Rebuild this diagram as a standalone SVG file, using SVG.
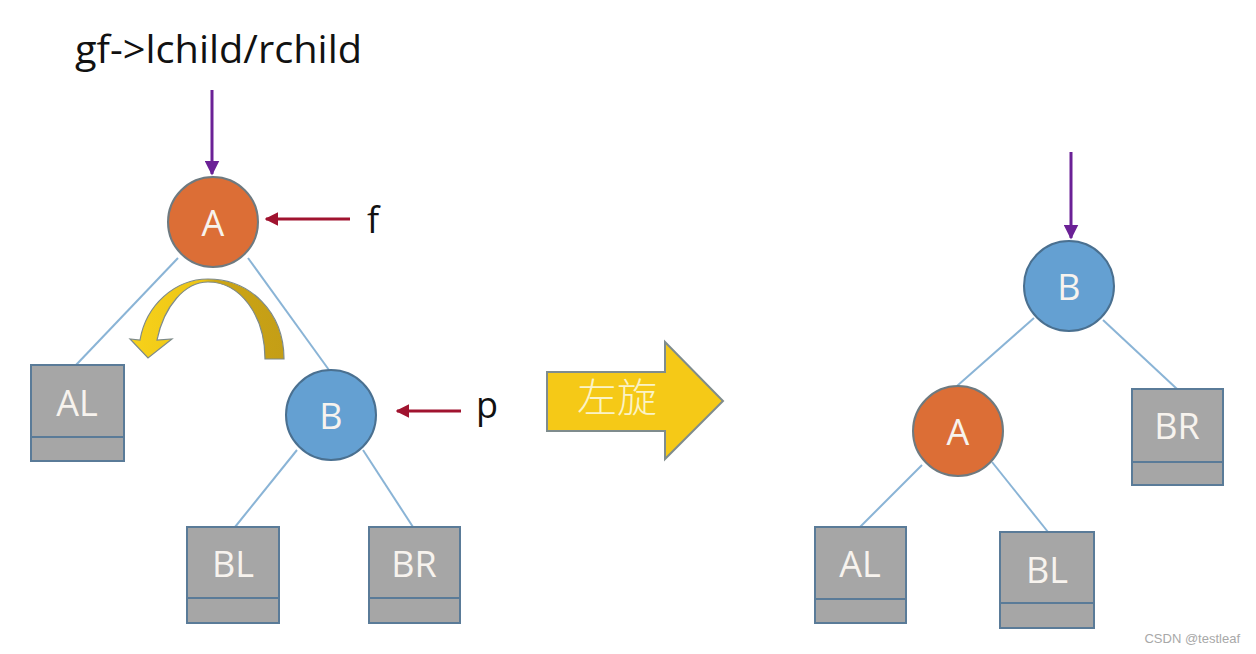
<svg xmlns="http://www.w3.org/2000/svg" width="1256" height="654" viewBox="0 0 1256 654">
<defs>
<style>
.edge{stroke:#8ab4d6;stroke-width:2;fill:none}
.boxr{fill:#a6a6a6;stroke:#5a7b98;stroke-width:2}
.div{stroke:#5a7b98;stroke-width:2}
.ca{fill:#dc6e36;stroke:#6e7a80;stroke-width:2}
.cb{fill:#64a0d2;stroke:#4a7090;stroke-width:2}
.nt{font-family:"Open Sans","Liberation Sans",sans-serif;font-size:36px;fill:#f7f3ee;text-anchor:middle}
.lbl{font-family:"Open Sans","Liberation Sans",sans-serif;fill:#111}
.pp{stroke:#6b2196;stroke-width:3;fill:none}
.rd{stroke:#a0132f;stroke-width:3;fill:none}
</style>
<marker id="mp" viewBox="0 0 10 10" refX="9" refY="5" markerWidth="5" markerHeight="5" markerUnits="strokeWidth" orient="auto"><path d="M0,0 L10,5 L0,10 z" fill="#6b2196"/></marker>
<marker id="mr" viewBox="0 0 10 10" refX="9" refY="5" markerWidth="4.5" markerHeight="4.5" markerUnits="strokeWidth" orient="auto"><path d="M0,0 L10,5 L0,10 z" fill="#a0132f"/></marker>
<linearGradient id="gy" x1="130" y1="0" x2="284" y2="0" gradientUnits="userSpaceOnUse">
<stop offset="0" stop-color="#f7d21a"/><stop offset="0.48" stop-color="#ecc416"/><stop offset="0.55" stop-color="#cca514"/><stop offset="1" stop-color="#c49e16"/>
</linearGradient>
</defs>
<rect width="1256" height="654" fill="#ffffff"/>

<text class="lbl" x="75" y="63" font-size="38" textLength="287" lengthAdjust="spacingAndGlyphs">gf-&gt;lchild/rchild</text>
<text class="lbl" x="367" y="233" font-size="36">f</text>
<text class="lbl" x="476" y="418" font-size="36">p</text>

<g id="connectors">
<line class="edge" x1="178" y1="258" x2="76" y2="365"/>
<line class="edge" x1="248" y1="258" x2="329" y2="370"/>
<line class="edge" x1="297" y1="450" x2="235" y2="527"/>
<line class="edge" x1="363" y1="450" x2="413" y2="527"/>
<line class="edge" x1="1034" y1="318" x2="957" y2="386"/>
<line class="edge" x1="1103" y1="320" x2="1177" y2="389"/>
<line class="edge" x1="922" y1="465" x2="860" y2="527"/>
<line class="edge" x1="992" y1="462" x2="1048" y2="532"/>
<line class="pp" x1="212" y1="90" x2="212" y2="174" marker-end="url(#mp)"/>
<line class="pp" x1="1071" y1="152" x2="1071" y2="238" marker-end="url(#mp)"/>
<line class="rd" x1="350" y1="219" x2="266" y2="219" marker-end="url(#mr)"/>
<line class="rd" x1="461" y1="411" x2="397" y2="411" marker-end="url(#mr)"/>
</g>

<g id="rotate-curve">
<path d="M284 359 C284 312 250 279 208 279 C175 279 146 305 140 340 L130 339 L148 358 L172 339 L157 340 C164 306 185 282 208 282 C240 282 265 315 265 359 Z" fill="url(#gy)" stroke="#7d8a8a" stroke-width="1.2"/>
</g>

<g id="big-arrow">
<path d="M547 372 L665 372 L665 342 L723 401 L665 459 L665 431 L547 431 Z" fill="#f5c917" stroke="#7f8c8d" stroke-width="2"/>
<text x="617" y="412" font-family="'Noto Sans CJK SC',sans-serif" font-size="40" fill="#fbf3c6" text-anchor="middle" font-weight="300">左旋</text>
</g>

<g id="L-A"><circle class="ca" cx="213" cy="222" r="45"/><text class="nt" x="213" y="236">A</text></g>
<g id="L-B"><circle class="cb" cx="331" cy="415" r="45"/><text class="nt" x="331" y="429">B</text></g>
<g id="L-AL"><rect class="boxr" x="31" y="365" width="93" height="96"/><line class="div" x1="31" y1="437" x2="124" y2="437"/><text class="nt" x="77" y="416">AL</text></g>
<g id="L-BL"><rect class="boxr" x="187" y="527" width="92" height="96"/><line class="div" x1="187" y1="598" x2="279" y2="598"/><text class="nt" x="233" y="577">BL</text></g>
<g id="L-BR"><rect class="boxr" x="369" y="527" width="91" height="96"/><line class="div" x1="369" y1="598" x2="460" y2="598"/><text class="nt" x="414" y="577">BR</text></g>

<g id="R-B"><circle class="cb" cx="1069" cy="286" r="45"/><text class="nt" x="1069" y="300">B</text></g>
<g id="R-A"><circle class="ca" cx="958" cy="431" r="45"/><text class="nt" x="958" y="445">A</text></g>
<g id="R-BR"><rect class="boxr" x="1132" y="389" width="91" height="96"/><line class="div" x1="1132" y1="462" x2="1223" y2="462"/><text class="nt" x="1177" y="439">BR</text></g>
<g id="R-AL"><rect class="boxr" x="815" y="527" width="91" height="96"/><line class="div" x1="815" y1="599" x2="906" y2="599"/><text class="nt" x="860" y="577">AL</text></g>
<g id="R-BL"><rect class="boxr" x="1000" y="532" width="94" height="96"/><line class="div" x1="1000" y1="603" x2="1094" y2="603"/><text class="nt" x="1047" y="583">BL</text></g>

<text x="1240" y="643" font-family="'Liberation Sans',sans-serif" font-size="13" fill="#a8a8a8" text-anchor="end">CSDN @testleaf</text>
</svg>
